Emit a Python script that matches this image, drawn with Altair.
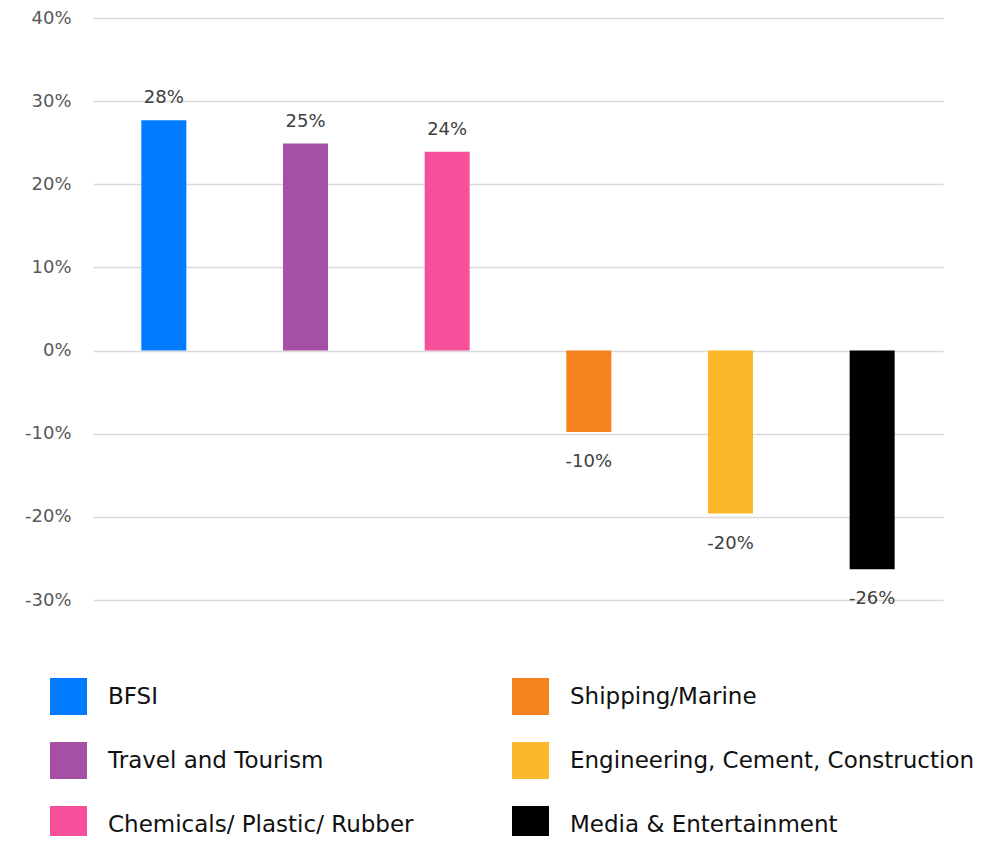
import altair as alt
import pandas as pd

categories = ["BFSI", "Travel and Tourism", "Chemicals/ Plastic/ Rubber",
              "Shipping/Marine", "Engineering, Cement, Construction", "Media & Entertainment"]
values = [0.277, 0.249, 0.239, -0.098, -0.196, -0.263]
colors = ["#007BFF", "#A550A5", "#F7509B", "#F5821F", "#FBB829", "#000000"]
y_ticks = [-0.3, -0.2, -0.1, 0.0, 0.1, 0.2, 0.3, 0.4]

df = pd.DataFrame({"category": categories, "value": values})

FONT = "DejaVu Sans"

x = alt.X("category:N", sort=categories, axis=None,
          scale=alt.Scale(paddingInner=0, paddingOuter=0))

bars = alt.Chart(df).mark_bar(size=45).encode(
    x=x,
    y=alt.Y("value:Q",
            scale=alt.Scale(domain=[-0.3, 0.4], nice=False, zero=True),
            axis=alt.Axis(values=y_ticks, title=None, ticks=False, domain=False,
                          labelExpr="round(datum.value*100) + '%'",
                          labelFont=FONT, labelFontSize=18, labelColor="#595959",
                          labelPadding=22, gridColor="#d9d9d9", gridWidth=1.5)),
    color=alt.Color("category:N",
                    scale=alt.Scale(domain=categories, range=colors),
                    legend=alt.Legend(orient="none", legendX=-43, legendY=660,
                                      columns=2, title=None, symbolType="square",
                                      symbolSize=1369, symbolStrokeWidth=0,
                                      labelFont=FONT, labelFontSize=23, labelColor="#111111",
                                      labelOffset=21, labelLimit=0, rowPadding=27,
                                      columnPadding=98, padding=0)),
)

base_text = alt.Chart(df).transform_calculate(
    label="round(datum.value*100) + '%'"
)

pos_labels = base_text.transform_filter("datum.value >= 0").mark_text(
    font=FONT, fontSize=18, color="#404040", baseline="alphabetic", dy=-17
).encode(x=x, y="value:Q", text="label:N")

neg_labels = base_text.transform_filter("datum.value < 0").mark_text(
    font=FONT, fontSize=18, color="#404040", baseline="alphabetic", dy=35
).encode(x=x, y="value:Q", text="label:N")

chart = alt.layer(bars, pos_labels, neg_labels).properties(
    width=850, height=582,
    autosize=alt.AutoSizeParams(type="none"),
    padding={"left": 85, "top": 10, "right": 40, "bottom": 236},
).configure(background="white").configure_view(stroke=None)

chart.save("out.html", embed_options={"renderer": "svg", "actions": False})
